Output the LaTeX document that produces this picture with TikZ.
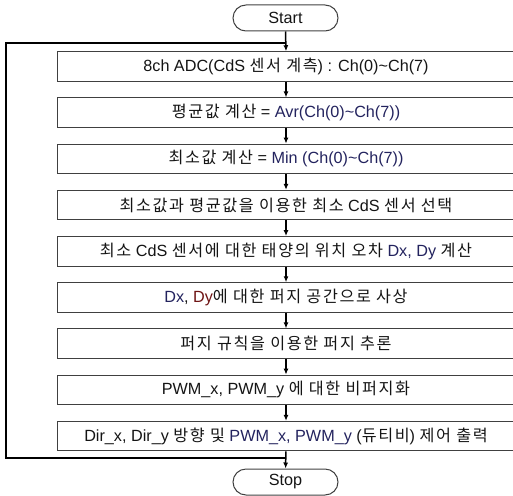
\documentclass[tikz,border=0pt]{standalone}
\usepackage{fontspec}
\setmainfont{Liberation Sans}
\newfontfamily\kofont[LetterSpace=10]{Noto Sans CJK KR}
\newcommand{\ko}[1]{{\kofont #1}}
\usetikzlibrary{arrows.meta}
\definecolor{navy}{HTML}{23235E}
\definecolor{dred}{HTML}{6E1414}
\definecolor{boxline}{HTML}{404040}
\definecolor{txt}{HTML}{141414}
\begin{document}
\begin{tikzpicture}[x=1pt,y=-1pt,
  every node/.style={font=\fontsize{16.2}{18}\selectfont, text=txt},
  procbox/.style={draw=boxline, line width=1pt, minimum width=458pt, minimum height=29.5pt, inner sep=0pt},
  termbox/.style={draw=boxline, line width=1pt, rounded corners=13pt, minimum width=105pt, minimum height=26pt, inner sep=0pt},
  flow/.style={line width=1.5pt, -{Latex[length=6pt,width=5pt]}},
  loopline/.style={line width=2.5pt}
]
\useasboundingbox (0,0) rectangle (513,495);
\node[termbox] (start) at (285.5,18) {Start};
\node[procbox] (b1) at (286,66.5) {8ch ADC(CdS \ko{센서 계측}) : Ch(0)\textasciitilde Ch(7)};
\node[procbox] (b2) at (286,112.7) {\ko{평균값 계산} = \textcolor{navy}{Avr(Ch(0)\textasciitilde Ch(7))}};
\node[procbox] (b3) at (286,158.9) {\ko{최소값 계산} = \textcolor{navy}{Min (Ch(0)\textasciitilde Ch(7))}};
\node[procbox] (b4) at (286,205.1) {\ko{최소값과 평균값을 이용한 최소} CdS \ko{센서 선택}};
\node[procbox] (b5) at (286,251.3) {\ko{최소} CdS \ko{센서에 대한 태양의 위치 오차} \textcolor{navy}{Dx, Dy} \ko{계산}};
\node[procbox] (b6) at (286,297.5) {\textcolor{navy}{Dx}, \textcolor{dred}{Dy}\ko{에 대한 퍼지 공간으로 사상}};
\node[procbox] (b7) at (286,343.7) {\ko{퍼지 규칙을 이용한 퍼지 추론}};
\node[procbox] (b8) at (286,389.9) {PWM\_x, PWM\_y \ko{에 대한 비퍼지화}};
\node[procbox] (b9) at (286,436.1) {Dir\_x, Dir\_y \ko{방향 및} \textcolor{navy}{PWM\_x, PWM\_y} (\ko{듀티비}) \ko{제어 출력}};
\node[termbox] (stop) at (285.5,482) {Stop};

\coordinate (j) at (286,458);
\coordinate (lb) at (6,458);
\coordinate (lt) at (6,43);
\coordinate (at) at (285,43);

\draw[flow] (start.south) -- (b1.north);
\draw[flow] (b1) -- (b2);
\draw[flow] (b2) -- (b3);
\draw[flow] (b3) -- (b4);
\draw[flow] (b4) -- (b5);
\draw[flow] (b5) -- (b6);
\draw[flow] (b6) -- (b7);
\draw[flow] (b7) -- (b8);
\draw[flow] (b8) -- (b9);
\draw[flow] (b9) -- (stop);
\draw[loopline, line join=miter] (j) -- (lb) -- (lt) -- (at);
\end{tikzpicture}
\end{document}
